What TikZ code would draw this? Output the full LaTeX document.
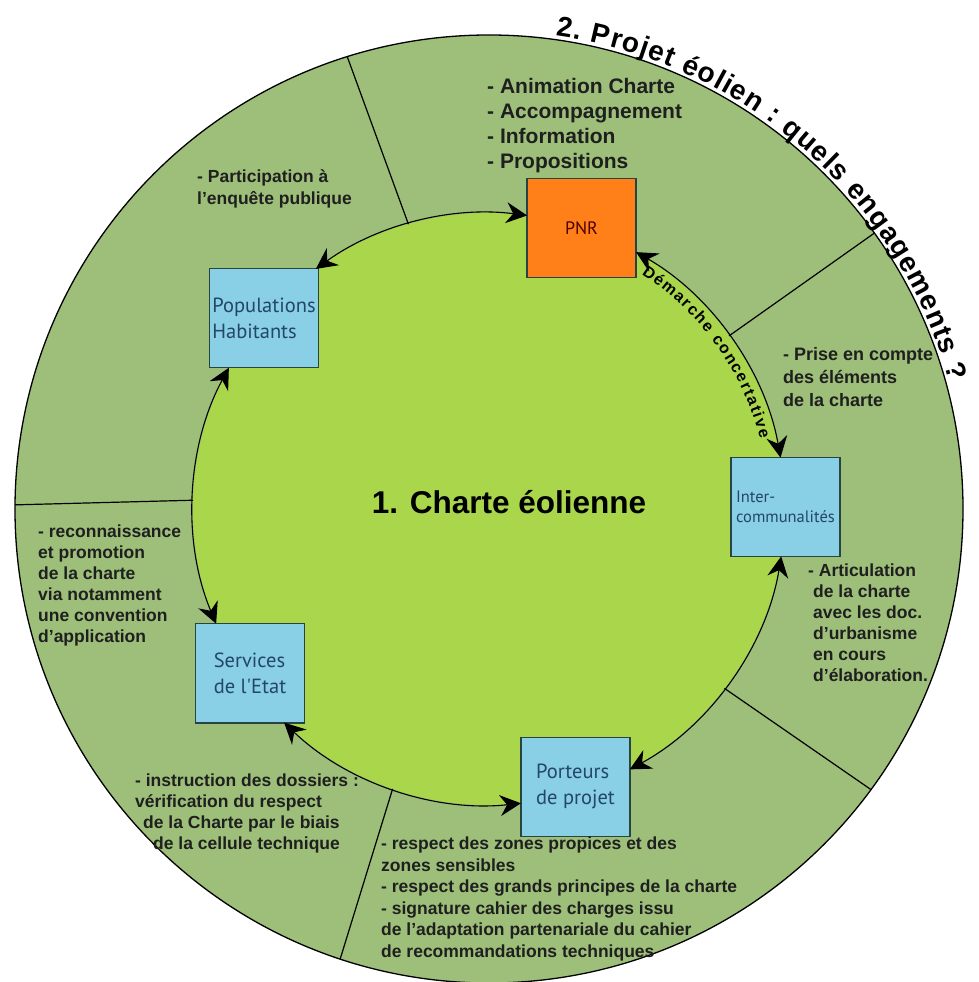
\documentclass[tikz,border=0pt]{standalone}
\usepackage{fontspec}
\setmainfont{Liberation Sans}
\newfontfamily\boxfont{PT Sans}
\usetikzlibrary{arrows.meta,decorations.text}

\definecolor{ringgreen}{RGB}{157,191,122}
\definecolor{corelime}{RGB}{170,214,76}
\definecolor{boxblue}{RGB}{137,207,230}
\definecolor{pnrorange}{RGB}{255,127,24}
\definecolor{boxline}{RGB}{40,68,66}
\definecolor{boxtext}{RGB}{36,70,104}

\tikzstyle{actor}=[rectangle,draw=boxline,line width=1.5pt,fill=boxblue,minimum width=109pt,minimum height=99pt,inner sep=1pt,align=left,text=boxtext,font=\boxfont\fontsize{20.5}{26}\selectfont]
\tikzstyle{link} = [draw,line width=1.1pt,<->,looseness=0.89]
\tikzstyle{divider} = [draw,line width=1.2pt]
\tikzstyle{engagement} = [anchor=north west,inner sep=0pt,align=left,text=black!88,font=\bfseries\fontsize{17.5}{21}\selectfont]

\begin{document}
\begin{tikzpicture}[x=1pt,y=1pt,>={Stealth[length=21pt,width=21pt,inset=7pt]}]
	\fill[white] (-489,-473) rectangle (490,509);
	\useasboundingbox (-489,-473) rectangle (490,509);
	% the two rings
	\draw[fill=ringgreen,line width=1.3pt] (0,0) circle (474);
	\fill[corelime] (0,0) circle (296);
	\foreach \a/\b in {105.8/107.4, 35.8/35.6, 178.3/179.5, -37.3/-36.3, -109/-108.3}
		\path[divider] (\a:296) -- (\b:474);

	\node[font=\bfseries\fontsize{31.5}{38}\selectfont] (charte) at (20,7) {1. Charte éolienne};
	\path[decorate,decoration={text along path,text={|\bfseries\fontsize{28}{32}\selectfont|2. Projet éolien : quels engagements ?},text align={fit to path}}]
		(82:478) arc[start angle=82,end angle=15.5,radius=478];

	% the partners on the inner circle
	\node[actor,fill=pnrorange,text=black!70!red,font=\boxfont\fontsize{18}{22}\selectfont] (pnr) at (71.8:296) {PNR};
	\node[actor] (pop) at (139.7:295) {Populations\\Habitants};
	\node[actor] (serv) at (214.5:290) {Services\\de l'Etat};
	\node[actor] (port) at (287.3:291) {Porteurs\\de projet};
	\node[actor,font=\boxfont\fontsize{16.5}{20}\selectfont] (inter) at (0.4:296.5) {Inter-\\communalités};

	% what each one brings
	\node[engagement,font=\bfseries\fontsize{21}{25}\selectfont] (pnrtasks) at (-2,431) {- Animation Charte\\- Accompagnement\\- Information\\- Propositions};
	\node[engagement,font=\bfseries\fontsize{17.5}{22}\selectfont] (poptasks) at (-292,340) {- Participation à\\l'enquête publique};
	\node[engagement,font=\bfseries\fontsize{18}{23}\selectfont] (intertasks) at (294,162) {- Prise en compte\\des éléments\\de la charte};
	\node[engagement] (urbatasks) at (319,-55) {- Articulation\\\hspace*{5pt}de la charte\\\hspace*{5pt}avec les doc.\\\hspace*{5pt}d'urbanisme\\\hspace*{5pt}en cours\\\hspace*{5pt}d'élaboration.};
	\node[engagement] (servtasks) at (-451,-16) {- reconnaissance\\et promotion\\de la charte\\via notamment\\une convention\\d'application};
	\node[engagement] (instrtasks) at (-354,-265) {- instruction des dossiers :\\vérification du respect\\\hspace*{8pt}de la Charte par le biais\\\hspace*{18pt}de la cellule technique};
	\node[engagement,font=\bfseries\fontsize{17.5}{21.5}\selectfont] (porttasks) at (-108,-328) {- respect des zones propices et des\\zones sensibles\\- respect des grands principes de la charte\\- signature cahier des charges issu\\de l'adaptation partenariale du cahier\\de recommandations techniques};

	% where the inner circle meets the boxes
	\coordinate (pnr-w) at (82.6:296);
	\coordinate (pnr-e) at (60.2:296);
	\coordinate (pop-e) at (125.8:296);
	\coordinate (pop-s) at (151.5:296);
	\coordinate (serv-n) at (202.8:296);
	\coordinate (serv-s) at (226.2:296);
	\coordinate (port-w) at (276.2:296);
	\coordinate (port-e) at (298.4:296);
	\coordinate (inter-s) at (350.8:296);
	\coordinate (inter-n) at (10:296);
	% links along the inner circle
	\foreach \source/ \dest/ \outang/ \inang in {pnr-w/pop-e/172.6/35.8, pop-s/serv-n/241.5/112.8, serv-s/port-w/316.2/186.2, port-e/inter-s/28.4/260.8, inter-n/pnr-e/100/-29.8}
		\path[link] (\source) to[out=\outang,in=\inang] (\dest);
	\path[decorate,decoration={text along path,text={|\bfseries\fontsize{16}{18}\selectfont|Démarche concertative},text align={fit to path}}]
		(57:280) arc[start angle=57,end angle=14.5,radius=280];
\end{tikzpicture}
\end{document}
